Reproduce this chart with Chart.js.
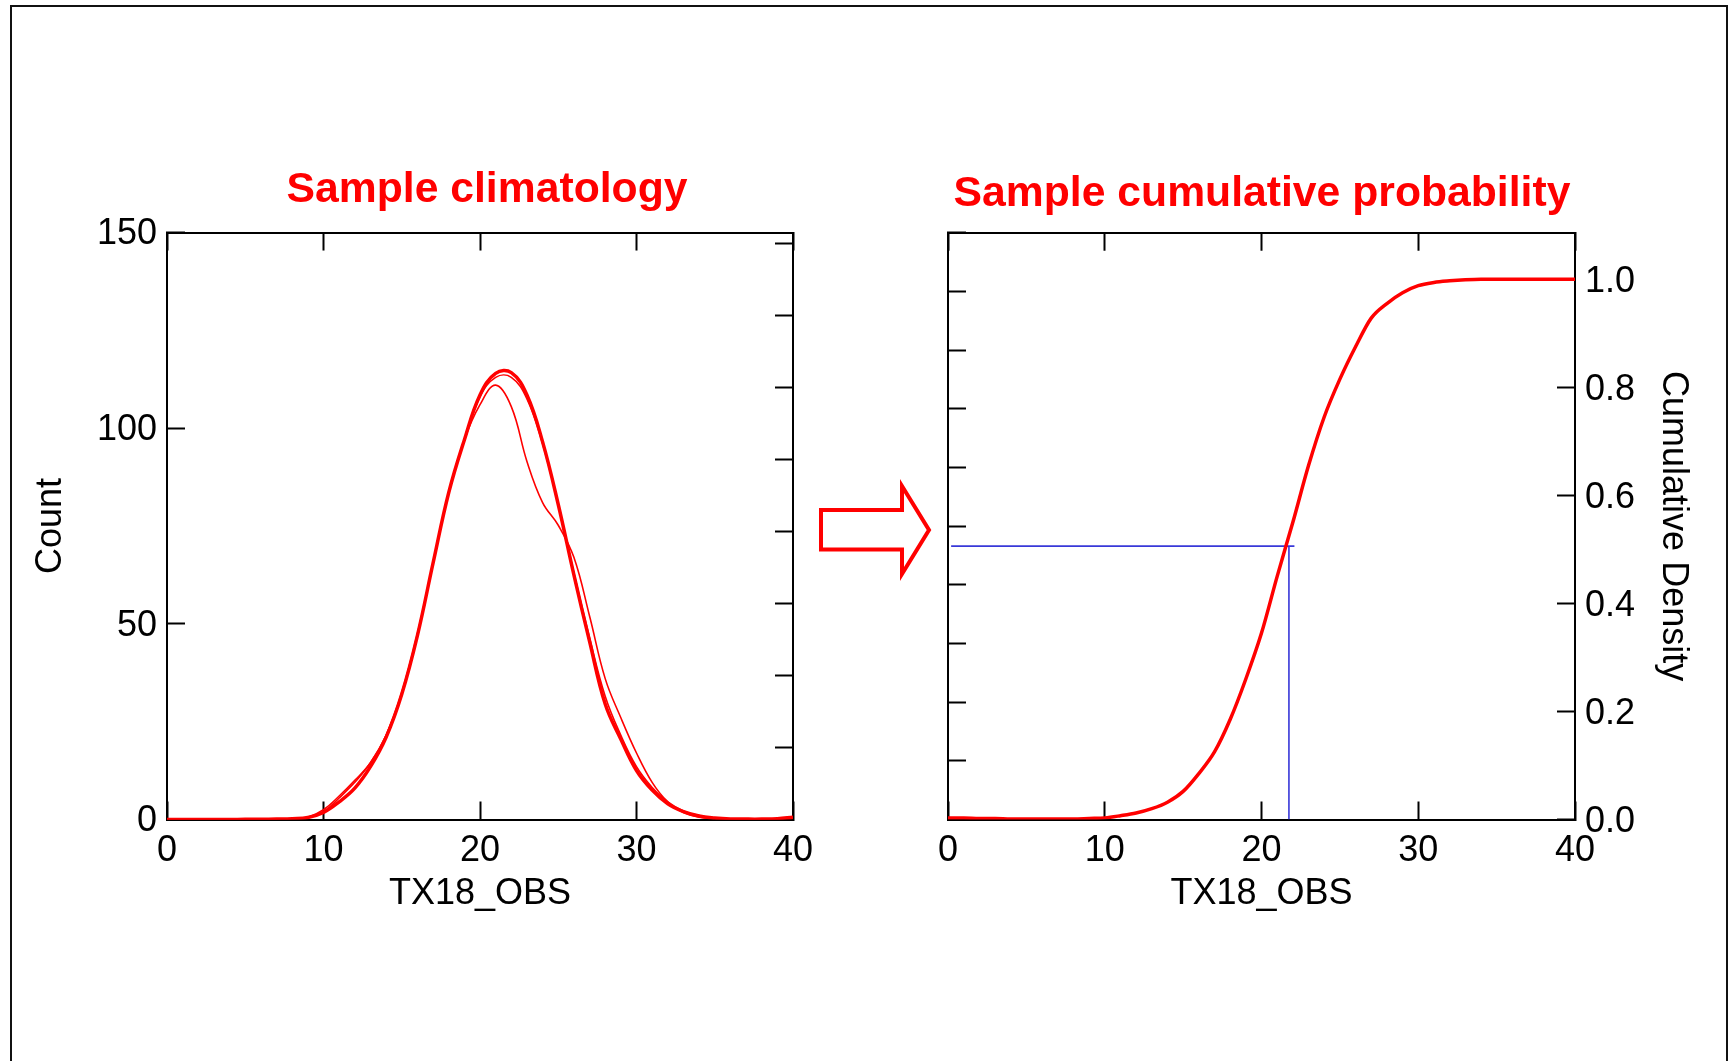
<!DOCTYPE html>
<html>
<head>
<meta charset="utf-8">
<script src="https://cdn.jsdelivr.net/npm/chart.js@4.4.1/dist/chart.umd.min.js"></script>
<style>
  html, body { margin: 0; padding: 0; background: #ffffff; overflow: hidden; }
  body { width: 1733px; height: 1061px; position: relative; }
  #frame { position: absolute; left: 10px; top: 5px; width: 1718px; height: 1200px; border: 2px solid #111; box-sizing: border-box; }
  canvas { position: absolute; top: 0; }
  #cL { left: 0; }
  #cR { left: 819px; }
  #arrow { position: absolute; left: 0; top: 0; }
</style>
</head>
<body>
<div id="frame"></div>
<canvas id="cL" width="974" height="1061"></canvas>
<canvas id="cR" width="886" height="1061"></canvas>
<svg id="arrow" width="1733" height="1061" xmlns="http://www.w3.org/2000/svg">
  <polygon points="821,510 902,510 902,486 929,530 902,574 902,549.5 821,549.5"
           fill="none" stroke="#ff0000" stroke-width="4" stroke-linejoin="miter"/>
</svg>
<script>
// ---------------- data ----------------
const tx18 = [0,1,2,3,4,5,6,7,8,9,10,11,12,13,14,15,16,17,18,19,20,21,22,23,24,25,26,27,28,29,30,31,32,33,34,35,36,37,38,39,40];

// Sample climatology (counts), several overlaid curves
const countMain  = [0,0,0,0,0,0.05,0.05,0.1,0.2,0.5,1.8,4.5,8,13.5,21,32,47,65.5,83.5,97,108.5,114,114.2,108.5,96.5,80.5,62.5,45.5,29.5,20.5,12.5,7.5,4,2,0.9,0.4,0.15,0.1,0.1,0.2,0.6];
const countThinA = [0,0,0,0,0,0.05,0.05,0.1,0.2,0.6,2.5,6,10,14.5,21.5,32,47,65.5,83.5,97,106,111,105.5,91.5,81,75.2,67,52,36,26,17,9.5,4.5,1.8,0.6,0.2,0.05,0.05,0.05,0.1,0.3];
const countThinB = [0,0,0,0,0,0.05,0.05,0.1,0.2,0.5,2,5.5,9.5,14.5,21.5,32.5,47.5,65.5,83.5,97,108,113,113,107.5,96,80.5,63,46.5,31.5,21.5,13.5,8.2,4.5,2.2,1,0.4,0.15,0.1,0.1,0.2,0.5];

// Sample cumulative probability
const cdfValues = [0.003,0.003,0.002,0.002,0.001,0.001,0.001,0.001,0.001,0.002,0.003,0.007,0.012,0.02,0.032,0.052,0.085,0.125,0.185,0.26,0.345,0.45,0.55,0.655,0.745,0.815,0.875,0.928,0.955,0.975,0.988,0.994,0.997,0.999,1,1,1,1,1,1,1];

// median guide (blue lines)
const medianX = 21.75;
const medianP = 0.506;
const guideStartX = 0.2;
const guideEndX = 22.1;

// tick labels / tick positions
const xTicks = [0,10,20,30,40];
const countTicks = [0,50,100,150];
const densityTicks = [0,0.02,0.04,0.06,0.08,0.10,0.12,0.14,0.16];
const probTicks = [0.0,0.2,0.4,0.6,0.8,1.0];
const leftMinorTicks = [0,1,2,3,4,5,6,7,8,9,10];

// ---------------- helpers ----------------
const FONT = '"Liberation Sans", Arial, Helvetica, sans-serif';
const RED = '#ff0000';
const pts = (xs, ys) => xs.map((x, i) => ({x: x, y: ys[i]}));
const setTicks = arr => (s => { s.ticks = arr.map(v => ({value: v})); });
const gridIn = { drawOnChartArea: false, drawTicks: true, tickLength: -18, tickColor: '#000', tickWidth: 2 };
const borderBlk = { display: true, color: '#000', width: 2 };
const tickFont = { family: FONT, size: 36 };
const titleFont = { family: FONT, size: 36 };

Chart.defaults.font.family = FONT;
Chart.defaults.color = '#000';

// ---------------- left chart ----------------
new Chart(document.getElementById('cL'), {
  type: 'line',
  data: {
    datasets: [
      { data: pts(tx18, countThinA), borderColor: RED, borderWidth: 1.6, pointRadius: 0, tension: 0.4, fill: false },
      { data: pts(tx18, countThinB), borderColor: RED, borderWidth: 1.6, pointRadius: 0, tension: 0.4, fill: false },
      { data: pts(tx18, countMain),  borderColor: RED, borderWidth: 3.5, pointRadius: 0, tension: 0.4, fill: false }
    ]
  },
  options: {
    responsive: false, animation: false, devicePixelRatio: 1,
    layout: { padding: { top: 0, left: 0, right: 0, bottom: 141.5 } },
    plugins: {
      legend: { display: false }, tooltip: { enabled: false },
      title: { display: true, text: 'Sample climatology', color: RED,
               font: { family: FONT, size: 42.7, weight: 'bold', lineHeight: 1.2 },
               padding: { top: 165.1, bottom: 16.2 } }
    },
    scales: {
      x: { type: 'linear', position: 'bottom', min: 0, max: 40,
           afterBuildTicks: setTicks(xTicks), afterFit: s => { s.height = 100; },
           ticks: { font: tickFont, color: '#000', padding: 28, maxRotation: 0 },
           grid: gridIn, border: borderBlk,
           title: { display: true, text: 'TX18_OBS', font: titleFont, color: '#000', padding: { top: 0, bottom: 3.9 } } },
      xTop: { type: 'linear', position: 'top', min: 0, max: 40,
           afterBuildTicks: setTicks(xTicks), afterFit: s => { s.height = 0; },
           ticks: { display: false }, grid: gridIn, border: borderBlk },
      y: { type: 'linear', position: 'left', min: 0, max: 150,
           afterBuildTicks: setTicks(countTicks), afterFit: s => { s.width = 167; },
           ticks: { font: tickFont, color: '#000', padding: 28, labelOffset: 2 },
           grid: gridIn, border: borderBlk,
           title: { display: true, text: 'Count', font: titleFont, color: '#000', padding: { top: 29.4, bottom: 0 } } },
      yR: { type: 'linear', position: 'right', min: 0, max: 0.163,
           afterBuildTicks: setTicks(densityTicks), afterFit: s => { s.width = 181; },
           ticks: { display: false }, grid: gridIn, border: borderBlk }
    }
  }
});

// ---------------- right chart ----------------
new Chart(document.getElementById('cR'), {
  type: 'line',
  data: {
    datasets: [
      { data: [{x: guideStartX, y: medianP}, {x: guideEndX, y: medianP}], yAxisID: 'y', borderColor: '#3838d8', borderWidth: 1.6, pointRadius: 0, tension: 0, order: 2 },
      { data: [{x: medianX, y: 0}, {x: medianX, y: medianP}], yAxisID: 'y', borderColor: '#3838d8', borderWidth: 1.6, pointRadius: 0, tension: 0, order: 2 },
      { data: pts(tx18, cdfValues), yAxisID: 'y', borderColor: RED, borderWidth: 3.5, pointRadius: 0, cubicInterpolationMode: 'monotone', order: 1 }
    ]
  },
  options: {
    responsive: false, animation: false, devicePixelRatio: 1,
    layout: { padding: { top: 0, left: 0, right: 0, bottom: 141.5 } },
    plugins: {
      legend: { display: false }, tooltip: { enabled: false },
      title: { display: true, text: 'Sample cumulative probability', color: RED,
               font: { family: FONT, size: 42.7, weight: 'bold', lineHeight: 1.2 },
               padding: { top: 168.6, bottom: 12.9 } }
    },
    scales: {
      x: { type: 'linear', position: 'bottom', min: 0, max: 40,
           afterBuildTicks: setTicks(xTicks), afterFit: s => { s.height = 100; },
           ticks: { font: tickFont, color: '#000', padding: 28, maxRotation: 0 },
           grid: gridIn, border: borderBlk,
           title: { display: true, text: 'TX18_OBS', font: titleFont, color: '#000', padding: { top: 0, bottom: 3.9 } } },
      xTop: { type: 'linear', position: 'top', min: 0, max: 40,
           afterBuildTicks: setTicks(xTicks), afterFit: s => { s.height = 0; },
           ticks: { display: false }, grid: gridIn, border: borderBlk },
      yL: { type: 'linear', position: 'left', min: 0, max: 10,
           afterBuildTicks: setTicks(leftMinorTicks), afterFit: s => { s.width = 129; },
           ticks: { display: false }, grid: gridIn, border: borderBlk },
      y: { type: 'linear', position: 'right', min: 0, max: 1.086,
           afterBuildTicks: setTicks(probTicks), afterFit: s => { s.width = 130; },
           ticks: { font: tickFont, color: '#000', padding: 28, labelOffset: 2.5, callback: v => Number(v).toFixed(1) },
           grid: gridIn, border: borderBlk,
           title: { display: true, text: 'Cumulative Density', font: titleFont, color: '#000', padding: { top: 10.4, bottom: 0 } } }
    }
  }
});
</script>
</body>
</html>
